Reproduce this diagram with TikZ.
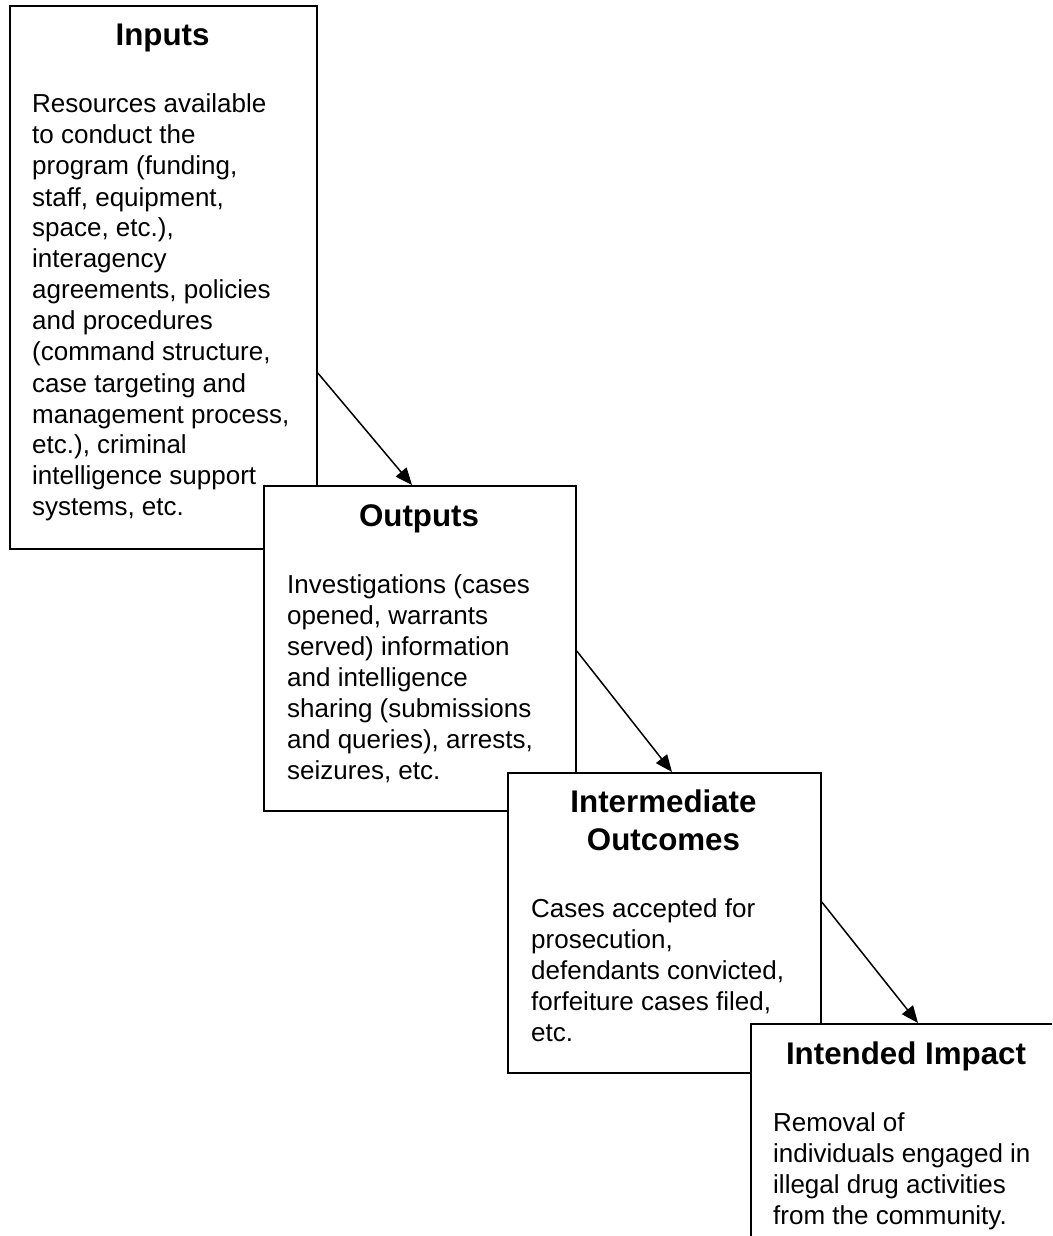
\documentclass[tikz,border=0pt]{standalone}
\usepackage{fontspec}
\setmainfont{Liberation Sans}
\usetikzlibrary{arrows.meta}
\begin{document}
\begin{tikzpicture}[x=1pt,y=-1pt,
  box/.style={draw=black, fill=white, line width=1.8pt, rectangle, anchor=north west, inner sep=0pt},
  ttl/.style={anchor=base, inner sep=0pt, font=\fontsize{31.3}{38}\selectfont\bfseries},
  body/.style={anchor=base west, inner sep=0pt, font=\fontsize{26}{31}\selectfont},
  arr/.style={line width=1.5pt, -{Triangle[length=17pt,width=14pt]}}]
\useasboundingbox (0,0) rectangle (1052,1236);
\clip (0,0) rectangle (1052,1236);

% Inputs
\node[box, minimum width=307pt, minimum height=543pt] (inputs) at (9,5) {};
\node[ttl] (inputsT) at (162.5,46) {Inputs};
\node[body] (inputsB) at (32,113) {\parbox[t]{280pt}{\raggedright
Resources available\\to conduct the\\program (funding,\\staff, equipment,\\space, etc.),\\interagency\\agreements, policies\\and procedures\\(command structure,\\case targeting and\\management process,\\etc.), criminal\\intelligence support\\systems, etc.}};

% Outputs
\node[box, minimum width=312pt, minimum height=325pt] (outputs) at (263,485) {};
\node[ttl] (outputsT) at (419,526) {Outputs};
\node[body] (outputsB) at (287,593) {\parbox[t]{285pt}{\raggedright
Investigations (cases\\opened, warrants\\served) information\\and intelligence\\sharing (submissions\\and queries), arrests,\\seizures, etc.}};

% Intermediate Outcomes
\node[box, minimum width=313pt, minimum height=300pt] (interm) at (507,772) {};
\node[ttl] (intermT) at (663.5,812) {\parbox[t]{290pt}{\centering Intermediate\\Outcomes}};
\node[body] (intermB) at (531,917) {\parbox[t]{285pt}{\raggedright
Cases accepted for\\prosecution,\\defendants convicted,\\forfeiture cases filed,\\etc.}};

% Intended Impact
\node[box, minimum width=312pt, minimum height=300pt] (impact) at (750,1023) {};
\node[ttl] (impactT) at (906,1064) {Intended Impact};
\node[body] (impactB) at (773,1131) {\parbox[t]{285pt}{\raggedright
Removal of\\individuals engaged in\\illegal drug activities\\from the community.}};

% Arrows
\draw[arr] ([yshift=-368pt]inputs.north east) -- ([xshift=149pt]outputs.north west);
\draw[arr] ([yshift=-166pt]outputs.north east) -- ([xshift=165pt]interm.north west);
\draw[arr] ([yshift=-130pt]interm.north east) -- ([xshift=168pt]impact.north west);
\end{tikzpicture}
\end{document}
